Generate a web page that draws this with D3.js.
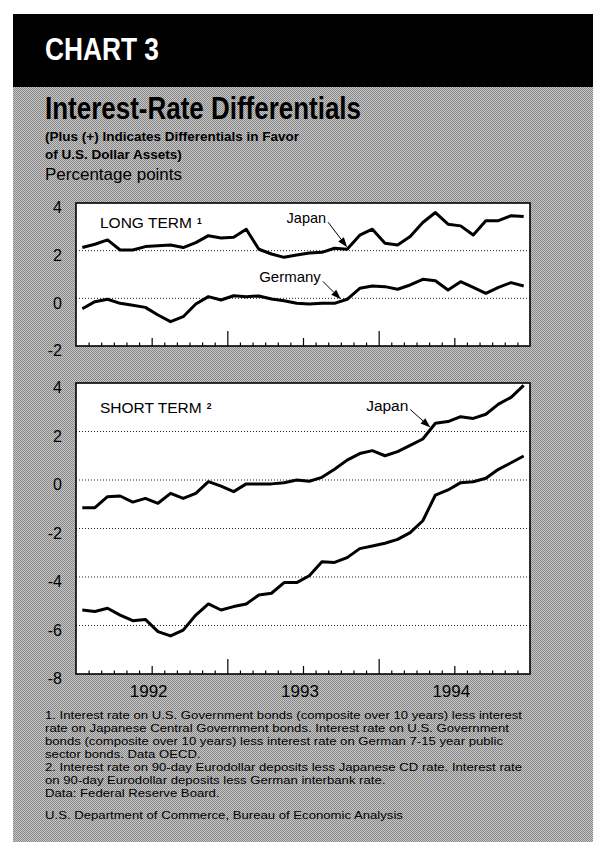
<!DOCTYPE html>
<html>
<head>
<meta charset="utf-8">
<script src="https://cdn.jsdelivr.net/npm/d3@7"></script>
<style>
  body { margin: 0; background: #fff; }
  svg { display: block; font-family: "Liberation Sans", Arial, Helvetica, sans-serif; }
</style>
</head>
<body>
<div id="chart"></div>
<script>
// monthly values, Jan 1992 .. Dec 1994 (percentage points)
const years = ["1992", "1993", "1994"];
const longJapan = [2.13, 2.27, 2.45, 2.03, 2.03, 2.17, 2.21, 2.24, 2.13, 2.34, 2.63, 2.53,
                   2.56, 2.9, 2.06, 1.86, 1.72, 1.82, 1.9, 1.93, 2.1, 2.06, 2.65, 2.9,
                   2.31, 2.24, 2.59, 3.18, 3.6, 3.11, 3.04, 2.66, 3.26, 3.26, 3.47, 3.43];
const longGermany = [-0.44, -0.14, -0.04, -0.21, -0.29, -0.38, -0.7, -0.98, -0.77, -0.24, 0.07, -0.07,
                     0.11, 0.07, 0.1, -0.03, -0.1, -0.21, -0.24, -0.21, -0.21, -0.04, 0.42, 0.52,
                     0.49, 0.38, 0.56, 0.8, 0.74, 0.35, 0.7, 0.46, 0.21, 0.46, 0.66, 0.52];
const shortJapan = [-1.14, -1.14, -0.69, -0.66, -0.91, -0.76, -0.96, -0.55, -0.76, -0.55, -0.07, -0.25,
                    -0.48, -0.16, -0.16, -0.16, -0.11, 0, -0.05, 0.11, 0.44, 0.82, 1.09, 1.21,
                    1.0, 1.17, 1.43, 1.69, 2.34, 2.41, 2.61, 2.54, 2.71, 3.13, 3.41, 3.9];
const shortGermany = [-5.36, -5.42, -5.29, -5.57, -5.8, -5.75, -6.25, -6.43, -6.19, -5.57, -5.11, -5.36,
                      -5.22, -5.11, -4.74, -4.67, -4.23, -4.23, -3.95, -3.37, -3.4, -3.2, -2.83, -2.72,
                      -2.61, -2.45, -2.17, -1.68, -0.62, -0.41, -0.11, -0.07, 0.07, 0.44, 0.71, 0.99];
const longTicks = [4, 2, 0, -2];
const longGrid = [2, 0];
const shortTicks = [4, 2, 0, -2, -4, -6, -8];
const shortGrid = [2, 0, -2, -4, -6];
const footnotes = [
  "1.  Interest rate on U.S. Government bonds (composite over 10 years) less interest",
  "rate on Japanese Central Government bonds. Interest rate on U.S. Government",
  "bonds (composite over 10 years) less interest rate on German 7-15 year public",
  "sector bonds.  Data OECD.",
  "2.  Interest rate on 90-day Eurodollar deposits less Japanese CD rate. Interest rate",
  "on 90-day Eurodollar deposits less German interbank rate.",
  "Data: Federal Reserve Board."
];
const source = "U.S. Department of Commerce, Bureau of Economic Analysis";

const W = 593, H = 842;
const svg = d3.select("#chart").append("svg").attr("width", W).attr("height", H);

// dithered gray background
const defs = svg.append("defs");
const pat = defs.append("pattern").attr("id", "dither")
  .attr("width", 2).attr("height", 2).attr("patternUnits", "userSpaceOnUse");
pat.append("rect").attr("width", 2).attr("height", 2).attr("fill", "#c6c6c6");
pat.append("rect").attr("width", 1).attr("height", 1).attr("fill", "#888");
pat.append("rect").attr("x", 1).attr("y", 1).attr("width", 1).attr("height", 1).attr("fill", "#888");

svg.append("rect").attr("x", 13).attr("y", 14).attr("width", W - 13).attr("height", H - 14)
  .attr("fill", "url(#dither)");
svg.append("rect").attr("x", 13).attr("y", 14).attr("width", W - 13).attr("height", 73)
  .attr("fill", "#000");

// header
svg.append("text").attr("x", 45).attr("y", 60).text("CHART 3")
  .attr("fill", "#fff").attr("font-weight", "bold").attr("font-size", 31)
  .attr("textLength", 114).attr("lengthAdjust", "spacingAndGlyphs");
svg.append("text").attr("x", 45).attr("y", 119).text("Interest-Rate Differentials")
  .attr("font-weight", "bold").attr("font-size", 31)
  .attr("textLength", 316).attr("lengthAdjust", "spacingAndGlyphs");
svg.append("text").attr("x", 45).attr("y", 141).text("(Plus (+) Indicates Differentials in Favor")
  .attr("font-weight", "bold").attr("font-size", 13.5);
svg.append("text").attr("x", 45).attr("y", 159).text("of U.S. Dollar Assets)")
  .attr("font-weight", "bold").attr("font-size", 13.5);
svg.append("text").attr("x", 45).attr("y", 180).text("Percentage points")
  .attr("font-size", 17);

// shared month scale: 0 = start of Jan 1992, 36 = end of Dec 1994
const x = d3.scaleLinear().domain([0, 36]).range([76, 530]);
const tickLen = k => (k % 12 === 0 ? 15 : k % 6 === 0 ? 8 : 3.5);

function drawPanel(p) {
  const y = d3.scaleLinear().domain([p.ticks[p.ticks.length - 1], p.ticks[0]]).range([p.bottom, p.top]);
  const g = svg.append("g");

  g.append("rect").attr("x", x(0)).attr("y", p.top)
    .attr("width", x(36) - x(0)).attr("height", p.bottom - p.top)
    .attr("fill", "#fff");

  g.selectAll(".grid").data(p.grid).enter().append("line")
    .attr("x1", x(0)).attr("x2", x(36))
    .attr("y1", d => y(d)).attr("y2", d => y(d))
    .attr("stroke", "#222").attr("stroke-width", 1).attr("stroke-dasharray", "1,2");

  // month ticks pointing up from the bottom edge
  const gx = g.append("g").attr("transform", `translate(0,${p.bottom})`)
    .call(d3.axisBottom(x).tickValues(d3.range(1, 36)).tickFormat(""));
  gx.select(".domain").remove();
  gx.selectAll(".tick line").attr("y2", k => -tickLen(k)).attr("stroke", "#000").attr("stroke-width", 1.2);

  const gy = g.append("g").attr("transform", `translate(${x(0)},0)`)
    .call(d3.axisLeft(y).tickValues(p.ticks).tickSize(0).tickPadding(14).tickFormat(d => String(d)));
  gy.select(".domain").remove();
  gy.selectAll(".tick text").attr("font-size", 16).attr("dy", "0.62em")
    .attr("font-family", "'Liberation Sans', Arial, sans-serif").attr("fill", "#000");

  const line = d3.line().x((d, i) => x(i + 0.5)).y(d => y(d));
  g.selectAll(".series").data(p.series).enter().append("path")
    .attr("d", d => line(d))
    .attr("fill", "none").attr("stroke", "#000").attr("stroke-width", 3)
    .attr("stroke-linejoin", "round");

  g.append("rect").attr("x", x(0)).attr("y", p.top)
    .attr("width", x(36) - x(0)).attr("height", p.bottom - p.top)
    .attr("fill", "none").attr("stroke", "#000").attr("stroke-width", 1.6);

  const lab = g.append("text").attr("x", x(0) + 24).attr("y", p.labelY)
    .attr("font-size", 15.5).text(p.label);
  const lw = lab.node().getComputedTextLength();
  g.append("text").attr("x", x(0) + 24 + lw + 5).attr("y", p.labelY - 4)
    .attr("font-size", 8.5).attr("font-weight", "bold").text(p.sup);

  p.notes.forEach(n => {
    const s = p.series[n.series];
    const f = n.pos - 0.5, i0 = Math.floor(f), t = f - i0;
    const v = s[i0] * (1 - t) + s[i0 + 1] * t;
    const tipX = x(n.pos), tipY = y(v) - 2;
    const tx = tipX + n.dx, ty = tipY + n.dy;
    g.append("text").attr("x", tx).attr("y", ty).attr("text-anchor", "end")
      .attr("font-size", n.size).text(n.text);
    const sx = tx + 2, sy = ty - 1;
    const ang = Math.atan2(tipY - sy, tipX - sx);
    const hl = 10, hw = 3.5;
    const bx = tipX - hl * Math.cos(ang), by = tipY - hl * Math.sin(ang);
    g.append("line").attr("x1", sx).attr("y1", sy).attr("x2", bx).attr("y2", by)
      .attr("stroke", "#000").attr("stroke-width", 1);
    g.append("path")
      .attr("d", `M${tipX},${tipY}L${bx - hw * Math.sin(ang)},${by + hw * Math.cos(ang)}L${bx + hw * Math.sin(ang)},${by - hw * Math.cos(ang)}Z`)
      .attr("fill", "#000");
  });
}

drawPanel({
  top: 203, bottom: 346, ticks: longTicks, grid: longGrid,
  series: [longJapan, longGermany],
  label: "LONG TERM", sup: "1", labelY: 228,
  notes: [
    { series: 0, pos: 21.5, text: "Japan", dx: -21, dy: -24, size: 14.5 },
    { series: 1, pos: 21.0, text: "Germany", dx: -20, dy: -17, size: 15 }
  ]
});

drawPanel({
  top: 383, bottom: 674, ticks: shortTicks, grid: shortGrid,
  series: [shortJapan, shortGermany],
  label: "SHORT TERM", sup: "2", labelY: 413,
  notes: [
    { series: 0, pos: 28.1, text: "Japan", dx: -22, dy: -17, size: 15.5 }
  ]
});

// year labels centred on mid-year
svg.append("g").selectAll("text").data(years).enter().append("text")
  .attr("x", (d, i) => x(i * 12 + 6) - 3).attr("y", 697)
  .attr("text-anchor", "middle").attr("font-size", 17).text(d => d);

// footnotes: small type, stretched to the widths of the printed lines
const fs = 11;
const fn = svg.append("g").attr("font-size", fs);
const rows = fn.selectAll("text").data(footnotes.concat([source])).enter().append("text")
  .attr("x", 45).attr("y", (d, i) => (i < footnotes.length ? 719 + i * 13 : 819)).text(d => d);
const stretch = 477 / rows.node().getComputedTextLength();
rows.each(function () {
  const len = this.getComputedTextLength();
  d3.select(this).attr("textLength", len * stretch).attr("lengthAdjust", "spacingAndGlyphs");
});
</script>
</body>
</html>
